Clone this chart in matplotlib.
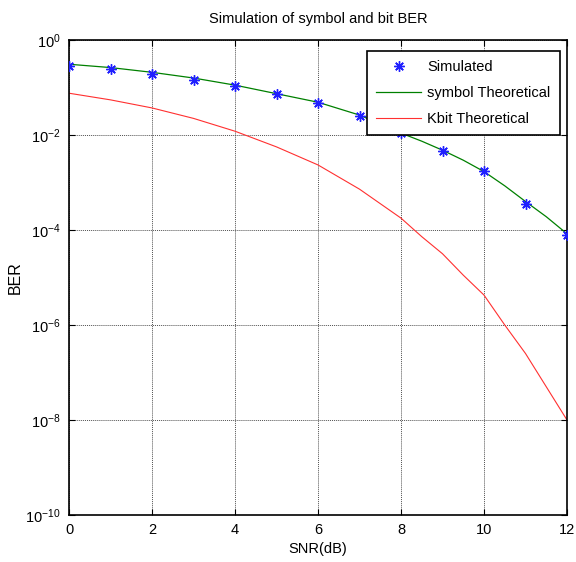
import numpy as np
import matplotlib
matplotlib.use('Agg')
import matplotlib.pyplot as plt
from matplotlib.ticker import LogLocator, LogFormatterMathtext, NullLocator

plt.rcParams['font.family'] = ['Liberation Sans', 'DejaVu Sans']
plt.rcParams['mathtext.fontset'] = 'custom'
plt.rcParams['mathtext.rm'] = 'Liberation Sans'
plt.rcParams['mathtext.it'] = 'Liberation Sans:italic'
plt.rcParams['mathtext.default'] = 'regular'

# Simulated symbol error rate
snr_sim = [0, 1, 2, 3, 4, 5, 6, 7, 8, 9, 10, 11, 12]
ber_sim = [2.84e-1, 2.5e-1, 1.9e-1, 1.44e-1, 1.1e-1, 7.4e-2, 4.7e-2,
           2.5e-2, 1.1e-2, 4.7e-3, 1.74e-3, 3.6e-4, 7.9e-5]

# Theoretical curves (log10 values)
snr_theo = [0, 1, 2, 3, 4, 5, 6, 7, 8, 8.5, 9, 9.5, 10, 10.5, 11, 11.5, 12]
log_sym = [-0.51, -0.58, -0.68, -0.80, -0.95, -1.13, -1.31, -1.58, -1.96,
           -2.13, -2.32, -2.53, -2.77, -3.07, -3.40, -3.72, -4.08]
log_bit = [-1.12, -1.26, -1.43, -1.65, -1.92, -2.25, -2.63, -3.14, -3.75,
           -4.14, -4.50, -4.95, -5.37, -6.00, -6.60, -7.30, -8.00]

fig = plt.figure(figsize=(5.76, 5.62), dpi=100)
ax = fig.add_axes([0.1198, 0.0836, 0.8646, 0.8452])

ax.semilogy(snr_sim, ber_sim, linestyle='none', marker=(8, 2, 0),
            color='#2020ff', markersize=7.5, markeredgewidth=1.0,
            label='Simulated', zorder=3)
ax.semilogy(snr_theo, 10.0 ** np.array(log_sym), '-', color='#008000',
            linewidth=0.9, label='symbol Theoretical')
ax.semilogy(snr_theo, 10.0 ** np.array(log_bit), '-', color='#ff3030',
            linewidth=0.8, label='Kbit Theoretical')

ax.set_xlim(0, 12)
ax.set_ylim(1e-10, 1e0)
ax.set_xticks(range(0, 13, 2))
ax.yaxis.set_major_locator(LogLocator(base=100.0, numticks=10))
ax.yaxis.set_major_formatter(LogFormatterMathtext(base=10))
ax.yaxis.set_minor_locator(NullLocator())

ax.tick_params(direction='in', length=4, width=0.8, labelsize=10.5,
               top=True, right=True, pad=6)
for sp in ax.spines.values():
    sp.set_linewidth(1.2)

ax.grid(True, color='#505050', linestyle=(0, (1, 1)), linewidth=0.7)

ax.set_title('Simulation of symbol and bit BER', fontsize=10.5, pad=12)
ax.set_xlabel('SNR(dB)', fontsize=10.5, labelpad=3)
ax.set_ylabel('BER', fontsize=11.5, labelpad=2)

leg = ax.legend(loc='upper right', bbox_to_anchor=(0.986, 0.977),
                borderaxespad=0, fontsize=10.5, fancybox=False,
                framealpha=1, edgecolor='black', handlelength=3.1,
                handletextpad=0.4, borderpad=0.65, labelspacing=0.8)
leg.get_frame().set_linewidth(1.2)
leg.set_zorder(5)

fig.savefig('out.png', dpi=100)
